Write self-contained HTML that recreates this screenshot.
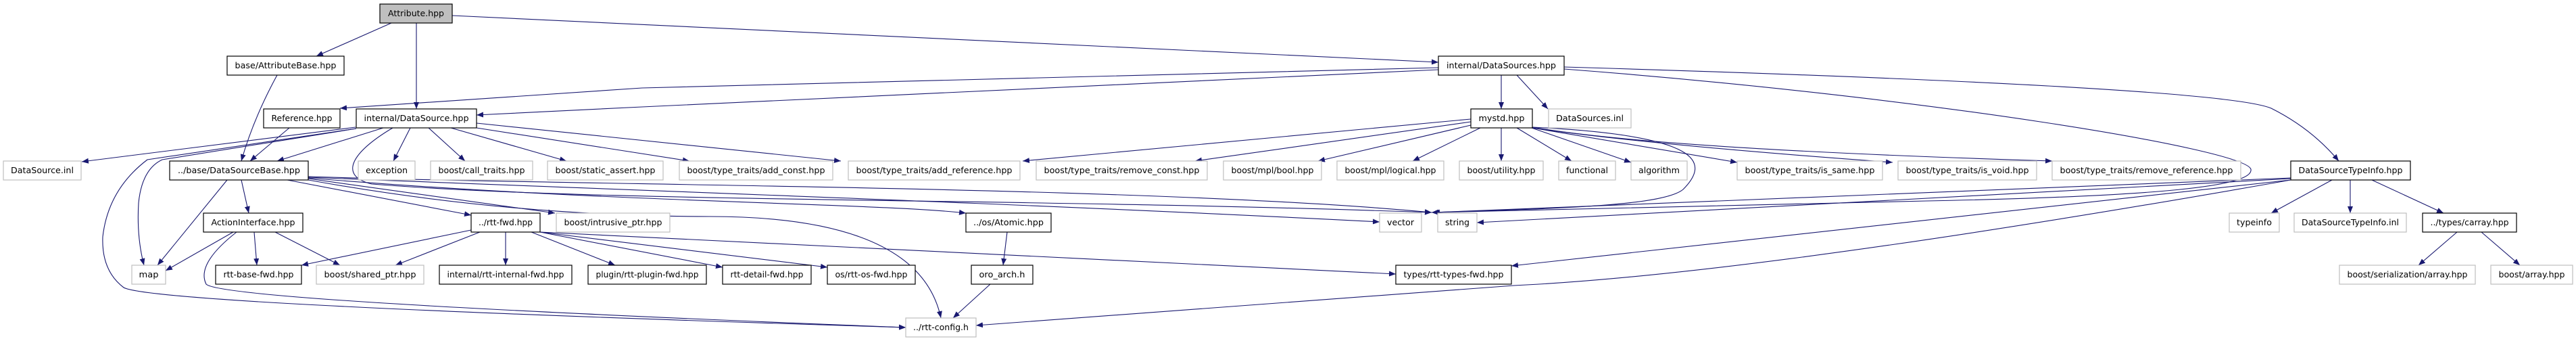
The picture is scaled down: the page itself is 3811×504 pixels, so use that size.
<!DOCTYPE html>
<html><head><meta charset="utf-8"><style>
html,body{margin:0;padding:0;background:#fff;}
svg{display:block;}
text{font-family:"DejaVu Sans","Liberation Sans",sans-serif;font-size:12px;fill:#000;}
.b{fill:#fff;stroke:#000;stroke-width:1.2;}
.g{fill:#fff;stroke:#bfbfbf;stroke-width:1.2;}
.e{fill:none;stroke:#191970;stroke-width:1.1;marker-end:url(#a);}
</style></head><body>
<svg width="3811" height="504" viewBox="0 0 3811 504" xmlns="http://www.w3.org/2000/svg">
<defs><marker id="a" viewBox="0 0 10 8" refX="10" refY="4" markerWidth="10" markerHeight="8" markerUnits="userSpaceOnUse" orient="auto"><path d="M0,0 L10,4 L0,8 z" fill="#191970"/></marker></defs>

<!-- edges -->
<path class="e" d="M579,34 L468,83"/>
<path class="e" d="M616,34 L616,161"/>
<path class="e" d="M669,23 L2128,92"/>
<path class="e" d="M410,111 Q375,175 357,238"/>
<path class="e" d="M2128,100 L950,130 L503,160"/>
<path class="e" d="M2128,103 L950,158 L705,170"/>
<path class="e" d="M2221,111 L2221,161"/>
<path class="e" d="M2244,111 L2290,161"/>
<path class="e" d="M2314,99 C2850,115 3300,135 3360,160 Q3420,190 3460,238"/>
<path class="e" d="M2314,102 C2850,143 3320,220 3330,250 C3335,275 3200,290 2850,297 L2118,314"/>
<path class="e" d="M428,189 L370,238"/>
<path class="e" d="M526,188 L121,239"/>
<path class="e" d="M527,190 L240,236 Q210,250 205,300 Q202,350 213,392"/>
<path class="e" d="M527,190 L218,236 Q160,280 152,350 Q150,400 183,425 Q230,450 1340,484"/>
<path class="e" d="M567,189 L410,238"/>
<path class="e" d="M607,189 L582,238"/>
<path class="e" d="M634,189 L688,238"/>
<path class="e" d="M667,189 L838,238"/>
<path class="e" d="M705,189 L1020,238"/>
<path class="e" d="M705,182 L1244,238"/>
<path class="e" d="M581,189 C520,225 500,260 550,272 C900,300 1500,292 2118,314"/>
<path class="e" d="M336,266 L233,392"/>
<path class="e" d="M357,266 L368,315"/>
<path class="e" d="M425,266 L697,318"/>
<path class="e" d="M456,264 L821,315"/>
<path class="e" d="M456,263 C900,300 1300,300 1429,315"/>
<path class="e" d="M456,266 C700,310 900,320 1050,320 Q1360,320 1392,470"/>
<path class="e" d="M456,262 C900,280 1500,300 2041,328"/>
<path class="e" d="M456,261 C900,275 1700,275 2118,314"/>
<path class="e" d="M345,343 L245,400"/>
<path class="e" d="M376,343 L380,392"/>
<path class="e" d="M407,343 L503,392"/>
<path class="e" d="M350,343 Q290,390 305,420 Q330,445 1340,484"/>
<path class="e" d="M697,340 L446,392"/>
<path class="e" d="M710,343 L585,392"/>
<path class="e" d="M748,343 L748,392"/>
<path class="e" d="M786,343 L910,392"/>
<path class="e" d="M799,343 L1069,395"/>
<path class="e" d="M799,343 L1224,395"/>
<path class="e" d="M799,343 L2065,405"/>
<path class="e" d="M1490,343 L1484,392"/>
<path class="e" d="M1465,420 L1410,470"/>
<path class="e" d="M3389,266 Q2600,405 2240,422 L1444,481"/>
<path class="e" d="M3389,266 L2236,393"/>
<path class="e" d="M3389,264 L2185,329"/>
<path class="e" d="M3389,263 L2120,314"/>
<path class="e" d="M3450,266 L3360,315"/>
<path class="e" d="M3477,266 L3477,315"/>
<path class="e" d="M3509,266 L3615,315"/>
<path class="e" d="M3635,343 L3578,392"/>
<path class="e" d="M3671,343 L3728,392"/>
<path class="e" d="M2176,176 L1513,238"/>
<path class="e" d="M2176,180 L1768,238"/>
<path class="e" d="M2176,185 L1950,238"/>
<path class="e" d="M2190,189 L2090,238"/>
<path class="e" d="M2221,189 L2221,238"/>
<path class="e" d="M2244,189 L2325,238"/>
<path class="e" d="M2266,189 L2413,240"/>
<path class="e" d="M2267,189 L2570,240"/>
<path class="e" d="M2267,189 Q2450,215 2800,240"/>
<path class="e" d="M2267,188 Q2450,220 3036,238"/>
<path class="e" d="M2267,188 C2520,200 2530,240 2490,280 C2460,305 2300,308 2118,314"/>

<!-- nodes -->
<rect x="562" y="6" width="107" height="28" fill="#bfbfbf" stroke="#000" stroke-width="1.2"/><text x="615.5" y="24" text-anchor="middle" textLength="83" lengthAdjust="spacingAndGlyphs">Attribute.hpp</text>
<rect class="b" x="336" y="83" width="173" height="28"/><text x="422.5" y="101" text-anchor="middle" textLength="150" lengthAdjust="spacingAndGlyphs">base/AttributeBase.hpp</text>
<rect class="b" x="2128" y="83" width="186" height="28"/><text x="2221" y="101" text-anchor="middle" textLength="162" lengthAdjust="spacingAndGlyphs">internal/DataSources.hpp</text>
<rect class="b" x="390" y="161" width="113" height="28"/><text x="446.5" y="179" text-anchor="middle" textLength="90" lengthAdjust="spacingAndGlyphs">Reference.hpp</text>
<rect class="b" x="527" y="161" width="178" height="28"/><text x="616" y="179" text-anchor="middle" textLength="155" lengthAdjust="spacingAndGlyphs">internal/DataSource.hpp</text>
<rect class="b" x="2176" y="161" width="91" height="28"/><text x="2221.5" y="179" text-anchor="middle" textLength="68" lengthAdjust="spacingAndGlyphs">mystd.hpp</text>
<rect class="g" x="2291" y="161" width="122" height="28"/><text x="2352" y="179" text-anchor="middle" textLength="100" lengthAdjust="spacingAndGlyphs">DataSources.inl</text>

<rect class="g" x="5" y="238" width="115" height="28"/><text x="62.5" y="256" text-anchor="middle" textLength="93" lengthAdjust="spacingAndGlyphs">DataSource.inl</text>
<rect class="b" x="251" y="238" width="205" height="28"/><text x="353.5" y="256" text-anchor="middle" textLength="181" lengthAdjust="spacingAndGlyphs">../base/DataSourceBase.hpp</text>
<rect class="g" x="530" y="238" width="84" height="28"/><text x="572" y="256" text-anchor="middle" textLength="62" lengthAdjust="spacingAndGlyphs">exception</text>
<rect class="g" x="637" y="238" width="151" height="28"/><text x="712.5" y="256" text-anchor="middle" textLength="128" lengthAdjust="spacingAndGlyphs">boost/call_traits.hpp</text>
<rect class="g" x="810" y="238" width="171" height="28"/><text x="895.5" y="256" text-anchor="middle" textLength="148" lengthAdjust="spacingAndGlyphs">boost/static_assert.hpp</text>
<rect class="g" x="1005" y="238" width="227" height="28"/><text x="1118.5" y="256" text-anchor="middle" textLength="204" lengthAdjust="spacingAndGlyphs">boost/type_traits/add_const.hpp</text>
<rect class="g" x="1255" y="238" width="254" height="28"/><text x="1382" y="256" text-anchor="middle" textLength="231" lengthAdjust="spacingAndGlyphs">boost/type_traits/add_reference.hpp</text>
<rect class="g" x="1533" y="238" width="253" height="28"/><text x="1659.5" y="256" text-anchor="middle" textLength="230" lengthAdjust="spacingAndGlyphs">boost/type_traits/remove_const.hpp</text>
<rect class="g" x="1810" y="238" width="145" height="28"/><text x="1882.5" y="256" text-anchor="middle" textLength="122" lengthAdjust="spacingAndGlyphs">boost/mpl/bool.hpp</text>
<rect class="g" x="1978" y="238" width="158" height="28"/><text x="2057" y="256" text-anchor="middle" textLength="135" lengthAdjust="spacingAndGlyphs">boost/mpl/logical.hpp</text>
<rect class="g" x="2159" y="238" width="124" height="28"/><text x="2221" y="256" text-anchor="middle" textLength="101" lengthAdjust="spacingAndGlyphs">boost/utility.hpp</text>
<rect class="g" x="2306" y="238" width="84" height="28"/><text x="2348" y="256" text-anchor="middle" textLength="62" lengthAdjust="spacingAndGlyphs">functional</text>
<rect class="g" x="2413" y="238" width="83" height="28"/><text x="2454.5" y="256" text-anchor="middle" textLength="61" lengthAdjust="spacingAndGlyphs">algorithm</text>
<rect class="g" x="2570" y="238" width="215" height="28"/><text x="2677.5" y="256" text-anchor="middle" textLength="192" lengthAdjust="spacingAndGlyphs">boost/type_traits/is_same.hpp</text>
<rect class="g" x="2808" y="238" width="205" height="28"/><text x="2910.5" y="256" text-anchor="middle" textLength="182" lengthAdjust="spacingAndGlyphs">boost/type_traits/is_void.hpp</text>
<rect class="g" x="3036" y="238" width="279" height="28"/><text x="3175.5" y="256" text-anchor="middle" textLength="256" lengthAdjust="spacingAndGlyphs">boost/type_traits/remove_reference.hpp</text>
<rect class="b" x="3389" y="238" width="177" height="28"/><text x="3477.5" y="256" text-anchor="middle" textLength="154" lengthAdjust="spacingAndGlyphs">DataSourceTypeInfo.hpp</text>

<rect class="b" x="301" y="315" width="147" height="28"/><text x="374.5" y="333" text-anchor="middle" textLength="124" lengthAdjust="spacingAndGlyphs">ActionInterface.hpp</text>
<rect class="b" x="697" y="315" width="102" height="28"/><text x="748" y="333" text-anchor="middle" textLength="80" lengthAdjust="spacingAndGlyphs">../rtt-fwd.hpp</text>
<rect class="g" x="823" y="315" width="168" height="28"/><text x="907" y="333" text-anchor="middle" textLength="145" lengthAdjust="spacingAndGlyphs">boost/intrusive_ptr.hpp</text>
<rect class="b" x="1429" y="315" width="126" height="28"/><text x="1492" y="333" text-anchor="middle" textLength="104" lengthAdjust="spacingAndGlyphs">../os/Atomic.hpp</text>
<rect class="g" x="2041" y="315" width="62" height="28"/><text x="2072" y="333" text-anchor="middle" textLength="40" lengthAdjust="spacingAndGlyphs">vector</text>
<rect class="g" x="2127" y="315" width="58" height="28"/><text x="2156" y="333" text-anchor="middle" textLength="36" lengthAdjust="spacingAndGlyphs">string</text>
<rect class="g" x="3298" y="315" width="74" height="28"/><text x="3335" y="333" text-anchor="middle" textLength="52" lengthAdjust="spacingAndGlyphs">typeinfo</text>
<rect class="g" x="3394" y="315" width="166" height="28"/><text x="3477" y="333" text-anchor="middle" textLength="144" lengthAdjust="spacingAndGlyphs">DataSourceTypeInfo.inl</text>
<rect class="b" x="3584" y="315" width="139" height="28"/><text x="3653.5" y="333" text-anchor="middle" textLength="116" lengthAdjust="spacingAndGlyphs">../types/carray.hpp</text>

<rect class="g" x="195" y="392" width="50" height="28"/><text x="220" y="410" text-anchor="middle" textLength="29" lengthAdjust="spacingAndGlyphs">map</text>
<rect class="b" x="319" y="392" width="127" height="28"/><text x="382.5" y="410" text-anchor="middle" textLength="104" lengthAdjust="spacingAndGlyphs">rtt-base-fwd.hpp</text>
<rect class="g" x="468" y="392" width="159" height="28"/><text x="547.5" y="410" text-anchor="middle" textLength="136" lengthAdjust="spacingAndGlyphs">boost/shared_ptr.hpp</text>
<rect class="b" x="650" y="392" width="196" height="28"/><text x="748" y="410" text-anchor="middle" textLength="173" lengthAdjust="spacingAndGlyphs">internal/rtt-internal-fwd.hpp</text>
<rect class="b" x="870" y="392" width="175" height="28"/><text x="957.5" y="410" text-anchor="middle" textLength="152" lengthAdjust="spacingAndGlyphs">plugin/rtt-plugin-fwd.hpp</text>
<rect class="b" x="1069" y="392" width="131" height="28"/><text x="1134.5" y="410" text-anchor="middle" textLength="108" lengthAdjust="spacingAndGlyphs">rtt-detail-fwd.hpp</text>
<rect class="b" x="1224" y="392" width="130" height="28"/><text x="1289" y="410" text-anchor="middle" textLength="107" lengthAdjust="spacingAndGlyphs">os/rtt-os-fwd.hpp</text>
<rect class="b" x="1437" y="392" width="91" height="28"/><text x="1482.5" y="410" text-anchor="middle" textLength="68" lengthAdjust="spacingAndGlyphs">oro_arch.h</text>
<rect class="b" x="2065" y="392" width="171" height="28"/><text x="2150.5" y="410" text-anchor="middle" textLength="148" lengthAdjust="spacingAndGlyphs">types/rtt-types-fwd.hpp</text>
<rect class="g" x="3461" y="392" width="201" height="28"/><text x="3561.5" y="410" text-anchor="middle" textLength="178" lengthAdjust="spacingAndGlyphs">boost/serialization/array.hpp</text>
<rect class="g" x="3685" y="392" width="121" height="28"/><text x="3745.5" y="410" text-anchor="middle" textLength="98" lengthAdjust="spacingAndGlyphs">boost/array.hpp</text>

<rect class="g" x="1340" y="470" width="104" height="28"/><text x="1392" y="488" text-anchor="middle" textLength="82" lengthAdjust="spacingAndGlyphs">../rtt-config.h</text>
</svg>
</body></html>
